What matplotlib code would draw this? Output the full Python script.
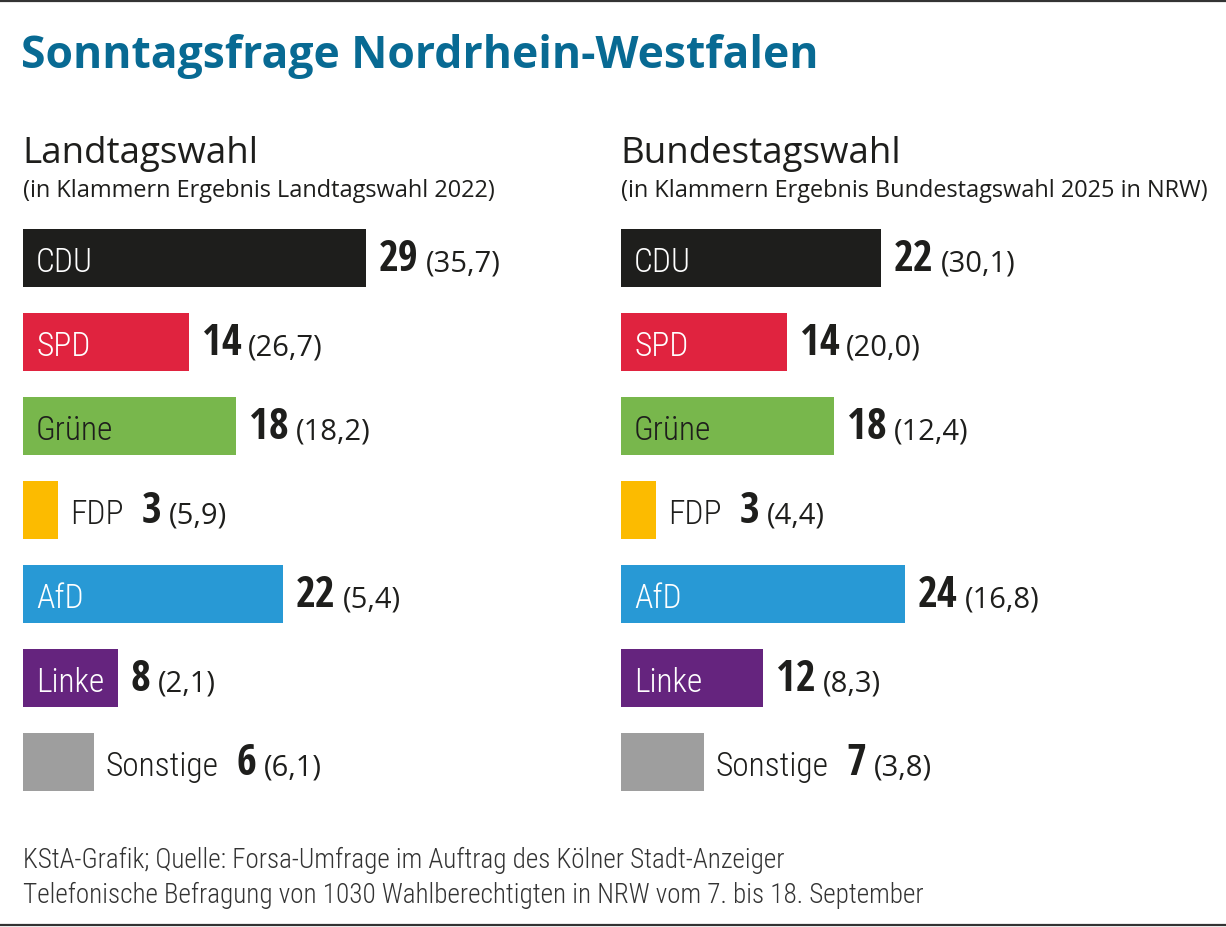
import matplotlib
matplotlib.use('Agg')
import matplotlib.pyplot as plt
from matplotlib.lines import Line2D

# ---------------- data ----------------
parties = ['CDU', 'SPD', 'Grüne', 'FDP', 'AfD', 'Linke', 'Sonstige']
landtag_now = [29, 14, 18, 3, 22, 8, 6]
landtag_2022 = ['35,7', '26,7', '18,2', '5,9', '5,4', '2,1', '6,1']
bund_now = [22, 14, 18, 3, 24, 12, 7]
bund_2025 = ['30,1', '20,0', '12,4', '4,4', '16,8', '8,3', '3,8']
party_colors = ['#1e1e1c', '#e0233f', '#78b74c', '#fcbb00', '#2899d5', '#65247e', '#9e9e9e']
inside_text_colors = ['white', 'white', '#1e1e1c', None, 'white', 'white', None]

title = 'Sonntagsfrage Nordrhein-Westfalen'
panel_titles = ['Landtagswahl', 'Bundestagswahl']
panel_notes = ['(in Klammern Ergebnis Landtagswahl 2022)',
               '(in Klammern Ergebnis Bundestagswahl 2025 in NRW)']
footer = ['KStA-Grafik; Quelle: Forsa-Umfrage im Auftrag des Kölner Stadt-Anzeiger',
          'Telefonische Befragung von 1030 Wahlberechtigten in NRW vom 7. bis 18. September']

# ---------------- layout ----------------
W, H, DPI = 1226, 927, 100
TXT = '#1e1e1c'
TITLE_C = '#086a93'
PX_PER_UNIT = 11.83
XMAX = 48
AX_TOP, AX_BOT = 216, 804

fig = plt.figure(figsize=(W / DPI, H / DPI), dpi=DPI)
fig.patch.set_facecolor('white')

def fx(px):
    return px / W

def fy(py):
    return 1 - py / H

fig.add_artist(Line2D([0, 1], [fy(1), fy(1)], color='#333333', lw=1.6))
fig.add_artist(Line2D([0, 1], [fy(925), fy(925)], color='#333333', lw=1.6))

fig.text(fx(21), fy(68), title, fontsize=32, fontweight='bold',
         family='Open Sans', color=TITLE_C, va='baseline')

panel_left = [23, 621]
for k, left in enumerate(panel_left):
    fig.text(fx(left - 1), fy(163), panel_titles[k], fontsize=26.5, family='Open Sans',
             color=TXT, va='baseline')
    fig.text(fx(left), fy(197), panel_notes[k], fontsize=16.9, family='Open Sans',
             color=TXT, va='baseline')

for j, line in enumerate(footer):
    fig.text(fx(23), fy(868 + 35 * j), line, fontsize=19.5, family='Roboto Condensed',
             fontweight='light', color='#333333', va='baseline')

axes = []
for left in panel_left:
    ax = fig.add_axes([fx(left), fy(AX_BOT), XMAX * PX_PER_UNIT / W, (AX_BOT - AX_TOP) / H])
    ax.set_xlim(0, XMAX)
    ax.set_ylim(len(parties) - 0.5, -0.5)
    ax.axis('off')
    axes.append(ax)

renderer = fig.canvas.get_renderer()
BASE = -13  # baseline offset (pixels) relative to bar centre

for ax, vals, prev in zip(axes, [landtag_now, bund_now], [landtag_2022, bund_2025]):
    ypos = list(range(len(parties)))
    ax.barh(ypos, vals, height=58 / 84, color=party_colors, left=0)
    for i, (p, v, pv) in enumerate(zip(parties, vals, prev)):
        end_px = ax.transData.transform((v, i))[0]
        tc = inside_text_colors[i]
        if tc is not None and v >= 8:
            ax.annotate(p, xy=(0, i), xytext=(13, BASE - 1), textcoords='offset pixels',
                        va='baseline', ha='left', fontsize=24, family='Roboto Condensed',
                        fontweight='light', color=tc)
            cursor = end_px + 13
        else:
            t = ax.annotate(p, xy=(v, i), xytext=(12, BASE - 1), textcoords='offset pixels',
                            va='baseline', ha='left', fontsize=24, family='Roboto Condensed',
                            fontweight='light', color=TXT)
            bb = t.get_window_extent(renderer)
            cursor = bb.x1 + 18
        t = ax.annotate(str(v), xy=(v, i), xytext=(cursor - end_px, BASE), textcoords='offset pixels',
                        va='baseline', ha='left', fontsize=31, family='Open Sans Condensed',
                        fontweight='bold', color=TXT)
        bb = t.get_window_extent(renderer)
        ax.annotate('(' + pv + ')', xy=(v, i), xytext=(bb.x1 + 7 - end_px, BASE - 1),
                    textcoords='offset pixels', va='baseline', ha='left', fontsize=21,
                    family='Open Sans', color=TXT)

fig.savefig('out.png', dpi=DPI, facecolor='white')
